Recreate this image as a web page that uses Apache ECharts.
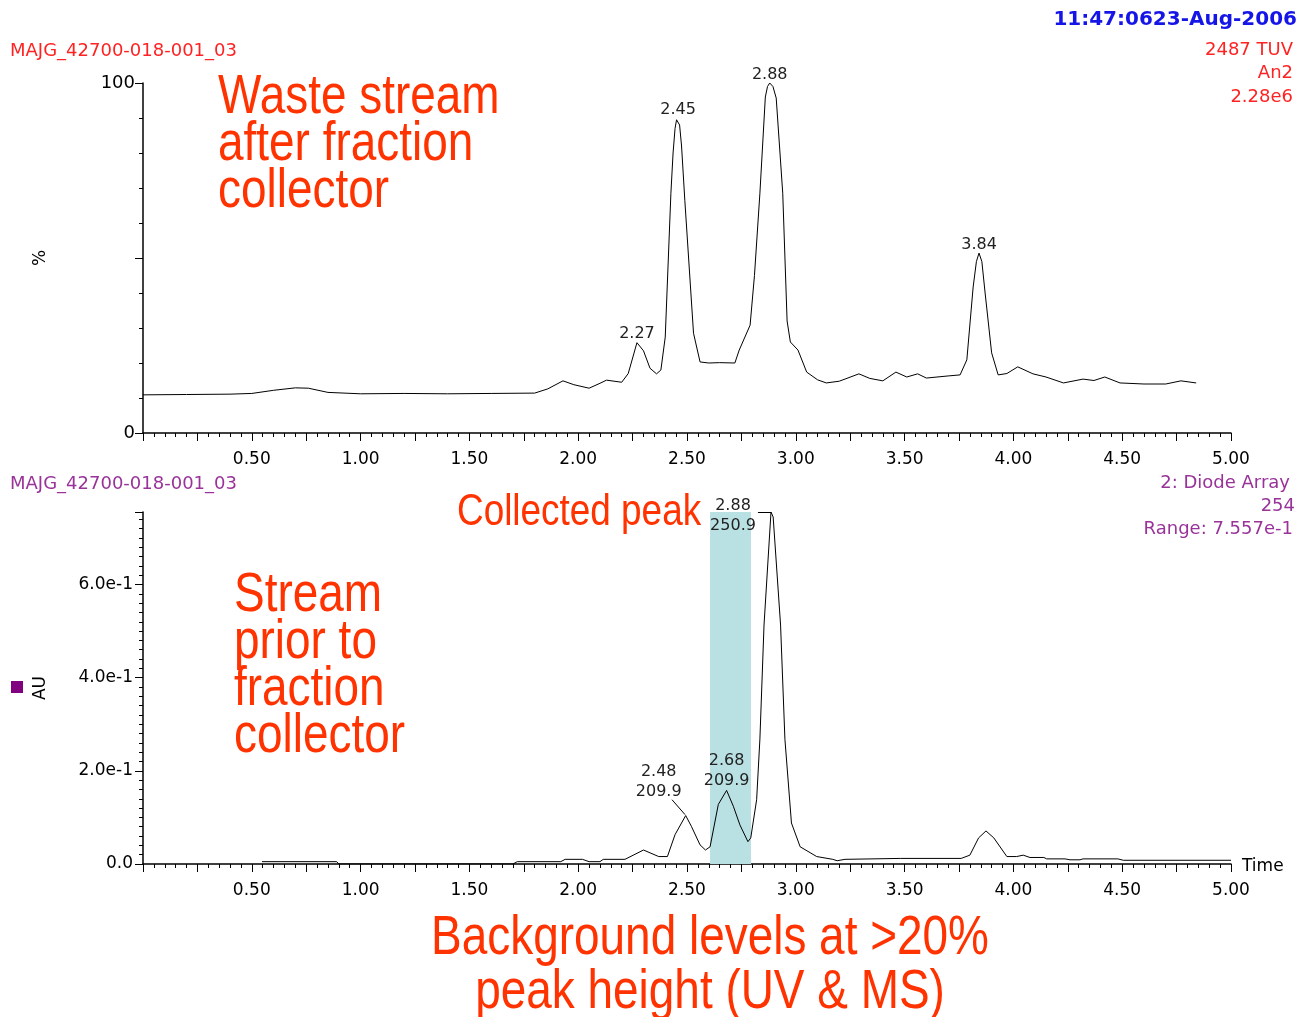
<!DOCTYPE html>
<html>
<head>
<meta charset="utf-8">
<title>Fraction collector chromatograms</title>
<script src="https://cdn.jsdelivr.net/npm/echarts@6/dist/echarts.min.js"></script>
<style>
  html, body { margin: 0; padding: 0; background: #fff; }
  #chart { width: 1299px; height: 1017px; }
</style>
</head>
<body>
<div id="chart"></div>
<script>
// top trace: waste stream after fraction collector (2487 TUV, % of 2.28e6)
const topTime = [0.00, 0.20, 0.40, 0.50, 0.60, 0.70, 0.76, 0.85, 1.00, 1.20, 1.40, 1.60, 1.80, 1.86, 1.93, 1.98,
  2.05, 2.10, 2.13, 2.20, 2.23, 2.27, 2.30, 2.33, 2.36, 2.38, 2.40, 2.426, 2.436, 2.445, 2.452, 2.459, 2.466, 2.475,
  2.49, 2.53, 2.56, 2.60, 2.65, 2.72, 2.74, 2.79, 2.81, 2.835, 2.86, 2.87, 2.88, 2.895, 2.91, 2.94, 2.96, 2.975,
  3.01, 3.05, 3.10, 3.14, 3.20, 3.29, 3.34, 3.40, 3.46, 3.51, 3.56, 3.60, 3.70, 3.755, 3.786, 3.815, 3.83, 3.842,
  3.855, 3.87, 3.90, 3.93, 3.97, 4.02, 4.09, 4.15, 4.23, 4.32, 4.37, 4.42, 4.49, 4.60, 4.70, 4.77, 4.84]
const topPct = [10.9, 11.0, 11.1, 11.3, 12.2, 12.9, 12.8, 11.6, 11.2, 11.3, 11.2, 11.3, 11.4, 12.6, 14.9, 13.8,
  12.8, 14.2, 15.1, 14.5, 17.0, 25.8, 23.5, 18.5, 16.9, 18.0, 27.4, 68.5, 80.0, 87.0, 89.5, 90.0, 88.0, 82.0,
  66.5, 28.5, 20.3, 20.0, 20.1, 20.0, 23.7, 30.8, 45.0, 68.5, 96.0, 99.0, 100, 99.0, 95.7, 68.5, 32.0, 26.0,
  23.7, 17.4, 15.2, 14.3, 14.8, 16.9, 15.6, 14.9, 17.4, 16.0, 16.9, 15.7, 16.3, 16.6, 20.9, 41.7, 49.0, 51.4,
  49.0, 40.0, 22.9, 16.6, 17.0, 18.9, 16.9, 16.0, 14.3, 15.4, 15.0, 16.0, 14.3, 14.0, 14.0, 14.9, 14.3]
const topPeakTimes = [2.27, 2.459, 2.88, 3.842]
const topPeakPct = [25.8, 90.0, 100, 51.4]
const topPeakLabels = ['2.27', '2.45', '2.88', '3.84']

// bottom trace: stream prior to fraction collector (2: Diode Array 254, AU)
const botTime = [0.547, 0.89, 0.90, 1.70, 1.72, 1.92, 1.94, 2.02, 2.05, 2.10, 2.115, 2.215, 2.30, 2.37, 2.41,
  2.445, 2.494, 2.52, 2.56, 2.585, 2.606, 2.644, 2.682, 2.713, 2.743, 2.78, 2.793, 2.82, 2.835, 2.854, 2.886,
  2.896, 2.93, 2.95, 2.98, 3.02, 3.096, 3.17, 3.19, 3.226, 3.48, 3.76, 3.80, 3.84, 3.874, 3.91, 3.97, 4.015,
  4.045, 4.076, 4.14, 4.153, 4.237, 4.26, 4.306, 4.32, 4.48, 4.505, 5.00]
const botAU = [0.005, 0.005, 0.0, 0.0, 0.005, 0.005, 0.010, 0.010, 0.005, 0.005, 0.010, 0.010, 0.030, 0.016, 0.016,
  0.063, 0.104, 0.081, 0.041, 0.030, 0.037, 0.128, 0.158, 0.124, 0.084, 0.048, 0.056, 0.138, 0.268, 0.513, 0.7557,
  0.745, 0.513, 0.268, 0.088, 0.037, 0.016, 0.010, 0.007, 0.010, 0.012, 0.012, 0.019, 0.056, 0.071, 0.056, 0.016, 0.016,
  0.019, 0.014, 0.014, 0.011, 0.011, 0.009, 0.009, 0.011, 0.011, 0.008, 0.008]
const botPeakTimes = [2.494, 2.682, 2.886]
const botPeakAU = [0.104, 0.158, 0.7557]
const botPeakLabels = ['2.48\n209.9', '2.68\n209.9', '2.88\n250.9']
const collectedWindow = [2.606, 2.794]

const xTicks = { min: 0, max: 5, interval: 0.25 }
const auMax = 0.7557

const chart = echarts.init(document.getElementById('chart'))

const tickFont = 'DejaVu Sans'
// no narrow font installed: squeeze Liberation Sans horizontally instead
const bigFont = '"Liberation Sans", Arial, sans-serif'
const narrow = 0.82
const orange = '#FF3300'

const xAxisBase = (gridIndex) => ({
  type: 'value',
  gridIndex: gridIndex,
  min: xTicks.min,
  max: xTicks.max,
  interval: xTicks.interval,
  axisLine: { lineStyle: { color: '#000', width: 1.5 } },
  axisTick: { length: 8, lineStyle: { color: '#000' } },
  minorTick: { show: true, splitNumber: 5, length: 4, lineStyle: { color: '#000' } },
  splitLine: { show: false },
  axisLabel: {
    color: '#000', fontFamily: tickFont, fontSize: 17, margin: 18,
    formatter: (v) => {
      const k = v / 0.5
      return (v > 0 && Math.abs(k - Math.round(k)) < 1e-6) ? v.toFixed(2) : ''
    }
  }
})

const bigText = (x, y, text, size, lineHeight, align) => ({
  type: 'text', x: x, y: y, scaleX: narrow, silent: true,
  style: { text: text, fill: orange, font: size + 'px ' + bigFont, lineHeight: lineHeight, align: align || 'left' }
})

const smallText = (pos, text, color, font) => Object.assign({ type: 'text', silent: true,
  style: { text: text, fill: color, font: font || '18px DejaVu Sans' } }, pos)

const option = {
  animation: false,
  backgroundColor: '#fff',
  grid: [
    { left: 143, top: 83, width: 1088, height: 350 },
    { left: 143, top: 512, width: 1088, height: 352 }
  ],
  xAxis: [xAxisBase(0), xAxisBase(1)],
  yAxis: [
    {
      type: 'value', gridIndex: 0, min: 0, max: 100, interval: 50,
      name: '%', nameLocation: 'middle', nameGap: 94, nameRotate: 90,
      nameTextStyle: { color: '#000', fontFamily: tickFont, fontSize: 17 },
      axisLine: { lineStyle: { color: '#000', width: 1.5 } },
      axisTick: { length: 8, lineStyle: { color: '#000' } },
      minorTick: { show: true, splitNumber: 5, length: 4, lineStyle: { color: '#000' } },
      splitLine: { show: false },
      axisLabel: {
        color: '#000', fontFamily: tickFont, fontSize: 18, margin: 8,
        formatter: (v) => (v === 0 || v === 100) ? String(v) : ''
      }
    },
    {
      type: 'value', gridIndex: 1, min: 0, max: auMax, interval: 0.2,
      name: 'AU', nameLocation: 'middle', nameGap: 94, nameRotate: 90,
      nameTextStyle: { color: '#000', fontFamily: tickFont, fontSize: 17 },
      axisLine: { lineStyle: { color: '#000', width: 1.5 } },
      axisTick: { length: 8, lineStyle: { color: '#000' } },
      minorTick: { show: true, splitNumber: 10, length: 4, lineStyle: { color: '#000' } },
      splitLine: { show: false },
      axisLabel: {
        color: '#000', fontFamily: tickFont, fontSize: 17, margin: 10,
        formatter: (v) => {
          if (v === 0) return '0.0'
          const k = v / 0.2
          return Math.abs(k - Math.round(k)) < 1e-6 ? v.toExponential(1) : ''
        }
      }
    }
  ],
  series: [
    {
      // collected fraction window, drawn under the trace
      type: 'line', xAxisIndex: 1, yAxisIndex: 1, data: [], z: 1, silent: true,
      markArea: {
        silent: true,
        itemStyle: { color: '#B9E0E3' },
        data: [[{ xAxis: collectedWindow[0] }, { xAxis: collectedWindow[1] }]]
      }
    },
    {
      name: 'Waste stream', type: 'line', xAxisIndex: 0, yAxisIndex: 0, z: 3,
      showSymbol: false, silent: true,
      lineStyle: { color: '#000', width: 1 },
      data: topTime.map((t, i) => [t, topPct[i]]),
      markPoint: {
        symbol: 'circle', symbolSize: 1, silent: true,
        itemStyle: { color: 'rgba(0,0,0,0)' },
        label: { show: true, position: 'top', distance: 0, color: '#222', fontFamily: tickFont, fontSize: 16,
          formatter: (p) => p.name },
        data: topPeakTimes.map((t, i) => ({ name: topPeakLabels[i], coord: [t, topPeakPct[i]] }))
      }
    },
    {
      name: 'Prior stream', type: 'line', xAxisIndex: 1, yAxisIndex: 1, z: 3,
      showSymbol: false, silent: true,
      lineStyle: { color: '#000', width: 1 },
      data: botTime.map((t, i) => [t, botAU[i]]),
      markPoint: {
        symbol: 'circle', symbolSize: 1, silent: true,
        itemStyle: { color: 'rgba(0,0,0,0)' },
        label: { show: true, position: 'inside', color: '#222', fontFamily: tickFont, fontSize: 16, lineHeight: 20,
          formatter: (p) => p.name },
        data: [
          { name: botPeakLabels[0], coord: [botPeakTimes[0], botPeakAU[0]], label: { offset: [-27, -34] } },
          { name: botPeakLabels[1], coord: [botPeakTimes[1], botPeakAU[1]], label: { offset: [0, -20] } },
          { name: botPeakLabels[2], coord: [botPeakTimes[2], botPeakAU[2]], label: { offset: [-38, 4] } }
        ]
      },
      markLine: {
        silent: true, symbol: ['none', 'none'],
        label: { show: false },
        lineStyle: { color: '#000', width: 1, type: 'solid' },
        data: [
          [{ coord: [2.431, 0.138] }, { coord: [2.491, 0.106] }],
          [{ coord: [2.826, auMax] }, { coord: [2.886, auMax] }]
        ]
      }
    }
  ],
  graphic: [
    smallText({ left: 10, top: 42 }, 'MAJG_42700-018-001_03', '#F22'),
    smallText({ right: 2, top: 10 }, '11:47:0623-Aug-2006', '#1515E8', 'bold 20px DejaVu Sans'),
    smallText({ right: 6, top: 41 }, '2487 TUV', '#F22'),
    smallText({ right: 6, top: 64 }, 'An2', '#F22'),
    smallText({ right: 6, top: 88 }, '2.28e6', '#F22'),

    smallText({ left: 10, top: 475 }, 'MAJG_42700-018-001_03', '#993399'),
    smallText({ right: 9, top: 474 }, '2: Diode Array', '#993399'),
    smallText({ right: 4, top: 497 }, '254', '#993399'),
    smallText({ right: 6, top: 520 }, 'Range: 7.557e-1', '#993399'),
    smallText({ left: 1242, top: 858 }, 'Time', '#000', '17px DejaVu Sans'),
    { type: 'rect', shape: { x: 11, y: 681, width: 12, height: 12 }, style: { fill: '#800080' } },

    bigText(218, 74, 'Waste stream\nafter fraction\ncollector', 56, 47),
    bigText(457, 490, 'Collected peak', 45, 45),
    bigText(234, 572, 'Stream\nprior to\nfraction\ncollector', 56, 47),
    bigText(710, 912, 'Background levels at >20%\npeak height (UV & MS)', 56, 54, 'center')
  ]
}

chart.setOption(option)
window.addEventListener('resize', () => chart.resize())
</script>
</body>
</html>
